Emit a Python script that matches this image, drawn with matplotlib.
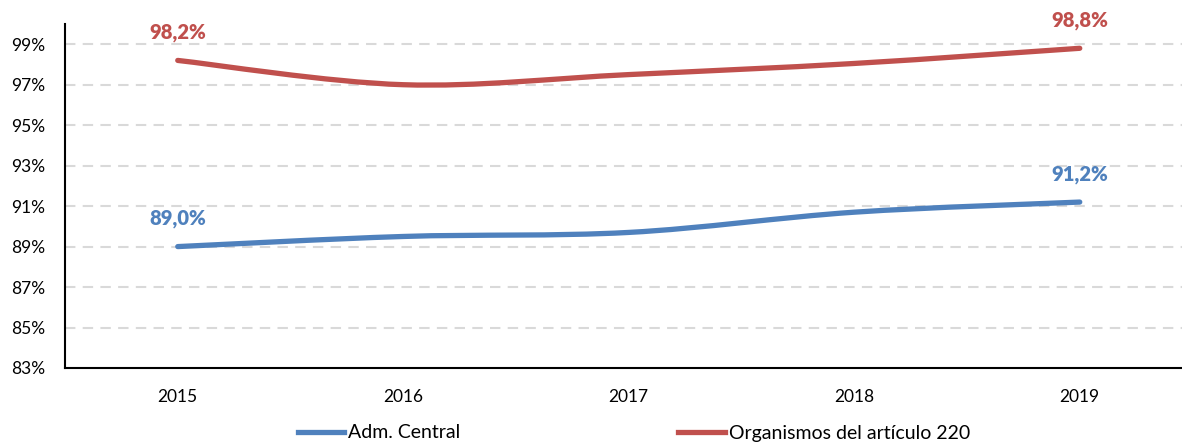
import matplotlib
matplotlib.use('Agg')
import matplotlib.pyplot as plt
from matplotlib.path import Path
from matplotlib.patches import PathPatch
from matplotlib.lines import Line2D
import numpy as np

years = ['2015', '2016', '2017', '2018', '2019']
adm_central = [89.0, 89.5, 89.7, 90.7, 91.2]
organismos = [98.2, 97.0, 97.5, 98.05, 98.8]
yticks = [83, 85, 87, 89, 91, 93, 95, 97, 99]

blue = '#4F81BD'
red = '#C0504D'
plt.rcParams['font.family'] = ['Lato', 'DejaVu Sans']


def smooth_path(xs, ys):
    # Excel-style smoothed line: cubic Bezier through the points
    pts = np.column_stack([xs, ys])
    n = len(pts)
    verts = [pts[0]]
    codes = [Path.MOVETO]
    for i in range(n - 1):
        p0 = pts[max(i - 1, 0)]
        p1 = pts[i]
        p2 = pts[i + 1]
        p3 = pts[min(i + 2, n - 1)]
        c1 = p1 + (p2 - p0) / 6
        c2 = p2 - (p3 - p1) / 6
        verts += [c1, c2, p2]
        codes += [Path.CURVE4] * 3
    return Path(verts, codes)


fig = plt.figure(figsize=(11.82, 4.43), dpi=100)
ax = fig.add_axes([65 / 1182, 1 - 368 / 443, 1127.5 / 1182, 344 / 443])

x = np.arange(len(years))
for vals, col in [(adm_central, blue), (organismos, red)]:
    patch = PathPatch(smooth_path(x, vals), facecolor='none', edgecolor=col,
                      lw=3.8, capstyle='round', joinstyle='round', zorder=3)
    ax.add_patch(patch)
    for i in (0, len(vals) - 1):
        ax.annotate(f'{vals[i]:.1f}%'.replace('.', ','), (x[i], vals[i]),
                    xytext=(0, 20), textcoords='offset points', ha='center',
                    va='center', color=col, fontsize=14.5, fontweight='heavy')

ax.set_xlim(-0.5, len(years) - 0.5)
ax.set_ylim(83, 100)
ax.set_xticks(x)
ax.set_xticklabels(years)
ax.set_yticks(yticks)
ax.set_yticklabels([f'{v}%' for v in yticks])
ax.tick_params(axis='both', length=0, labelsize=12.5, colors='black')
ax.tick_params(axis='y', pad=14)
ax.tick_params(axis='x', pad=15)

for v in yticks[1:]:
    ax.axhline(v, color='#D9D9D9', lw=1.5, ls=(0, (5, 3.5)), zorder=1)

for s in ['top', 'right']:
    ax.spines[s].set_visible(False)
for s in ['left', 'bottom']:
    ax.spines[s].set_linewidth(1.5)
    ax.spines[s].set_color('black')

handles = [Line2D([], [], color=blue, lw=3.8),
           Line2D([], [], color=red, lw=3.8)]
fig.legend(handles, ['Adm. Central', 'Organismos del artículo 220'],
           loc='center', bbox_to_anchor=(634 / 1182, 1 - 433 / 443), ncol=2,
           frameon=False, fontsize=14, handlelength=2.4, handletextpad=0.2,
           columnspacing=11.2, borderpad=0)

fig.savefig('out.png', dpi=100)
